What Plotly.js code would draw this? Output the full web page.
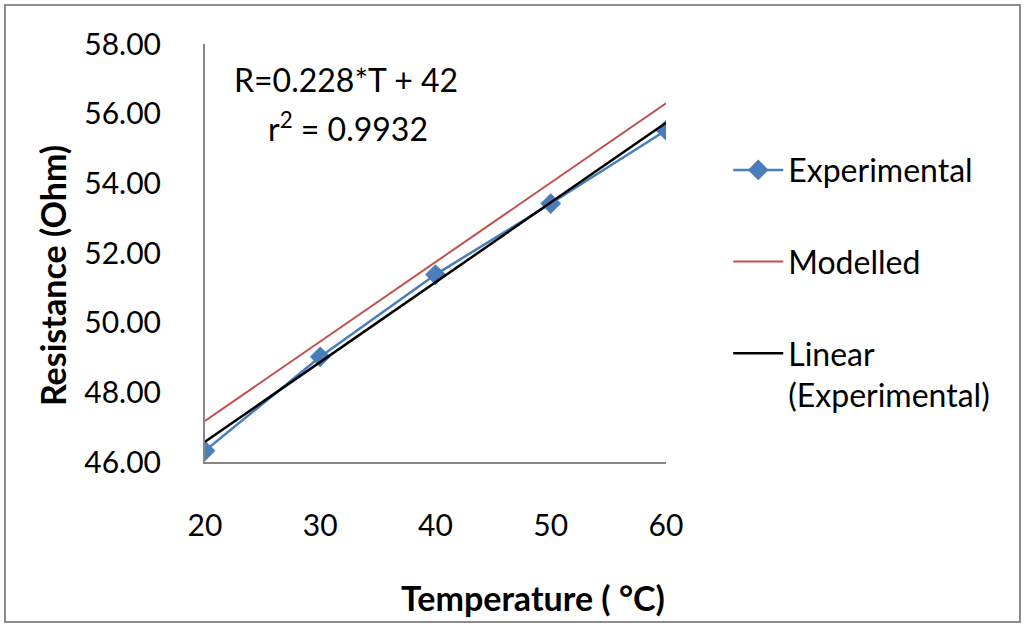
<!DOCTYPE html>
<html>
<head>
<meta charset="utf-8">
<script src="https://cdn.plot.ly/plotly-3.0.1.min.js"></script>
<style>
  body { margin: 0; background: #fff; }
  #chart { width: 1024px; height: 628px; }
  #frame { position: absolute; left: 4px; top: 4px; width: 1013px; height: 615px;
           border: 2px solid #8c8c8c; pointer-events: none; }
</style>
</head>
<body>
<div id="chart"></div>
<div id="frame"></div>
<script>
// temperatures (deg C) and measured resistance (Ohm)
var temps = [20, 30, 40, 50, 60];
var experimental = [46.32, 49.02, 51.38, 53.42, 55.52];
// model line
var modelled = [47.18, 49.46, 51.74, 54.02, 56.30];
// linear trendline end points
var trendT = [20, 60];
var trendR = [46.58, 55.74];

var yTicks = [46, 48, 50, 52, 54, 56, 58];
var yTickText = ['46.00', '48.00', '50.00', '52.00', '54.00', '56.00', '58.00'];
var xTicks = [20, 30, 40, 50, 60];

var font = 'Lato, "Open Sans", sans-serif';

var exp = {
  x: temps, y: experimental, name: 'Experimental',
  mode: 'lines+markers', type: 'scatter',
  line: {color: '#4A7EBB', width: 2.5},
  marker: {symbol: 'diamond', size: 16, color: '#4A7EBB'},
  legendgroup: 'a'
};

var mod = {
  x: temps, y: modelled, name: 'Modelled',
  mode: 'lines', type: 'scatter',
  line: {color: '#C0504D', width: 2},
  legendgroup: 'b'
};

var lin = {
  x: trendT, y: trendR, name: 'Linear<br>(Experimental)',
  mode: 'lines', type: 'scatter',
  line: {color: '#000000', width: 2.5},
  legendgroup: 'c'
};

var layout = {
  width: 1024, height: 628,
  margin: {l: 205, r: 358, t: 44, b: 166},
  paper_bgcolor: '#fff', plot_bgcolor: '#fff',
  font: {family: font, size: 30, color: '#000'},
  showlegend: true,
  legend: {
    x: 1.135, y: 0.764, xanchor: 'left', yanchor: 'top',
    traceorder: 'grouped', tracegroupgap: 47, valign: 'top',
    itemwidth: 50,
    font: {family: font, size: 32, color: '#000'}
  },
  xaxis: {
    range: [20, 60], tickvals: xTicks,
    showgrid: false, zeroline: false,
    showline: true, linecolor: '#868686', linewidth: 2,
    ticks: '', ticklabelstandoff: 36
  },
  yaxis: {
    range: [46, 58], tickvals: yTicks, ticktext: yTickText,
    showgrid: false, zeroline: false,
    showline: true, linecolor: '#868686', linewidth: 2,
    ticks: '', ticklabelstandoff: 36
  },
  annotations: [
    {xref: 'paper', yref: 'paper', x: 0.306, y: 0.914, xanchor: 'center', yanchor: 'middle',
     showarrow: false, text: 'R=0.228*T + 42', font: {family: font, size: 32}},
    {xref: 'paper', yref: 'paper', x: 0.31, y: 0.801, xanchor: 'center', yanchor: 'middle',
     showarrow: false, text: 'r<sup>2</sup> = 0.9932', font: {family: font, size: 32}},
    {xref: 'paper', yref: 'paper', x: 0.7115, y: -0.325, xanchor: 'center', yanchor: 'middle',
     showarrow: false, text: '<b>Temperature ( °C)</b>', font: {family: font, size: 34}},
    {xref: 'paper', yref: 'paper', x: -0.332, y: 0.447, xanchor: 'center', yanchor: 'middle',
     showarrow: false, textangle: -90, text: '<b>Resistance (Ohm)</b>', font: {family: font, size: 34}}
  ]
};

Plotly.newPlot('chart', [exp, mod, lin], layout, {displayModeBar: false, staticPlot: true});
</script>
</body>
</html>
